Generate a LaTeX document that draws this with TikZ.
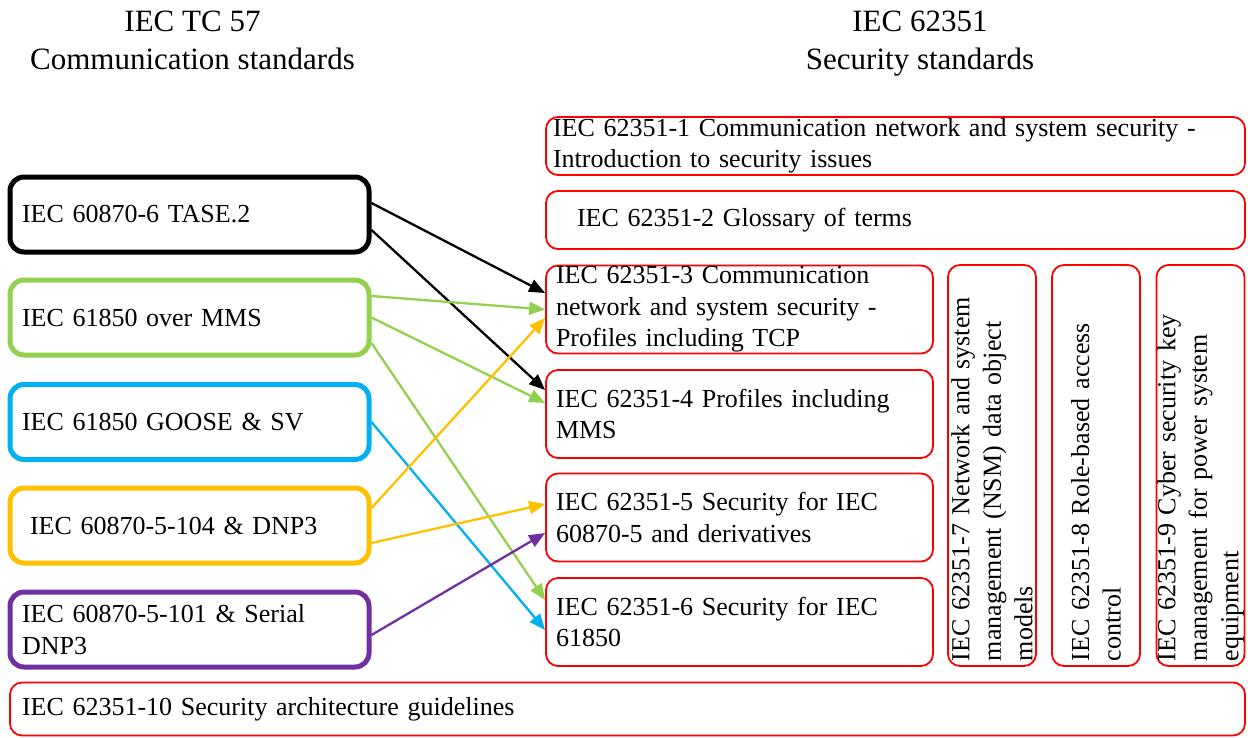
\documentclass[tikz,border=0pt]{standalone}
\usepackage{fontspec}
\setmainfont{Liberation Serif}
\usetikzlibrary{arrows.meta}
\definecolor{cgreen}{HTML}{92D050}
\definecolor{ccyan}{HTML}{00B0F0}
\definecolor{cyellow}{HTML}{FFC000}
\definecolor{cpurple}{HTML}{7030A0}
\definecolor{cred}{HTML}{FF0000}
\begin{document}
\begin{tikzpicture}[x=1pt,y=-1pt,
  body/.style={font=\fontsize{26}{31.5}\selectfont},
  heading/.style={font=\fontsize{31}{38}\selectfont, align=center},
  srcbox/.style={body, draw, line width=5pt, rounded corners=14pt,
    minimum width=359pt, minimum height=75pt, text width=335pt,
    inner xsep=12pt, inner ysep=0pt, align=left},
  secbox/.style={body, draw=cred, line width=1.8pt, rounded corners=12pt,
    inner ysep=0pt, align=left},
  midbox/.style={secbox, minimum width=387pt, minimum height=88pt,
    text width=367pt, inner xsep=10pt},
  tallbox/.style={secbox, rotate=90, minimum width=401pt, minimum height=88pt,
    text width=391pt, inner xsep=5pt},
  conn/.style={line width=2.3pt, -{Triangle[length=16pt,width=13pt]}}
]
\useasboundingbox (0,0) rectangle (1248,737);

% column headings (struts keep both headings on the same baselines)
\node[heading, inner sep=0pt] (hl) at (192.5,43) {\strut IEC TC 57\\\strut Communication standards};
\node[heading, inner sep=0pt] (hr) at (920,43) {\strut IEC 62351\\\strut Security standards};

% communication standards
\node[srcbox, draw=black]   (tase)  at (189.5,214.5) {IEC 60870-6 TASE.2};
\node[srcbox, draw=cgreen]  (mms)   at (189.5,317.5) {IEC 61850 over MMS};
\node[srcbox, draw=ccyan]   (goose) at (189.5,422)   {IEC 61850 GOOSE \& SV};
\node[srcbox, draw=cyellow] (dnp)   at (189.5,525.5) {\hspace*{8pt}IEC 60870-5-104 \& DNP3};
\node[srcbox, draw=cpurple] (ser)   at (189.5,629.5) {IEC 60870-5-101 \& Serial\\DNP3};

% security standards
\node[secbox, minimum width=699pt, minimum height=58pt, text width=685pt, inner xsep=7pt]
  (p1) at (895.5,146) {IEC 62351-1 Communication network and system security -\\Introduction to security issues};
\node[secbox, minimum width=699pt, minimum height=58pt, text width=637pt, inner xsep=31pt]
  (p2) at (895.5,220) {IEC 62351-2 Glossary of terms};
\node[midbox] (p3) at (739.5,309.5) {IEC 62351-3 Communication\\network and system security -\\Profiles including TCP};
\node[midbox] (p4) at (739.5,414)   {IEC 62351-4 Profiles including\\MMS};
\node[midbox] (p5) at (739.5,517.5) {IEC 62351-5 Security for IEC\\60870-5 and derivatives};
\node[midbox] (p6) at (739.5,622)   {IEC 62351-6 Security for IEC\\61850};
\node[tallbox] (p7) at (992,465.5)  {IEC 62351-7 Network and system\\management (NSM) data object\\models};
\node[tallbox] (p8) at (1096,465.5) {IEC 62351-8 Role-based access\\control};
\node[tallbox] (p9) at (1200.5,465.5) {IEC 62351-9 Cyber security key\\management for power system\\equipment};
\node[secbox, minimum width=1235pt, minimum height=53pt, text width=1211pt, inner xsep=12pt]
  (p10) at (627.5,709) {IEC 62351-10 Security architecture guidelines};

% mappings
\draw[conn, black]   ([yshift=11.5pt]tase.east) -- ([yshift=16.5pt]p3.west);
\draw[conn, black]   ([yshift=-15.5pt]tase.east) -- ([yshift=24pt]p4.west);
\draw[conn, cgreen]  ([yshift=21.5pt]mms.east) -- (p3.west);
\draw[conn, cgreen]  (mms.east) -- ([yshift=11pt]p4.west);
\draw[conn, cgreen]  ([yshift=-25.5pt]mms.east) -- ([yshift=22pt]p6.west);
\draw[conn, ccyan]   (goose.east) -- ([yshift=-8pt]p6.west);
\draw[conn, cyellow] ([yshift=17.5pt]dnp.east) -- ([yshift=-8.5pt]p3.west);
\draw[conn, cyellow] ([yshift=-17.5pt]dnp.east) -- ([yshift=13.5pt]p5.west);
\draw[conn, cpurple] ([yshift=-5.5pt]ser.east) -- ([yshift=-15.5pt]p5.west);
\end{tikzpicture}
\end{document}
